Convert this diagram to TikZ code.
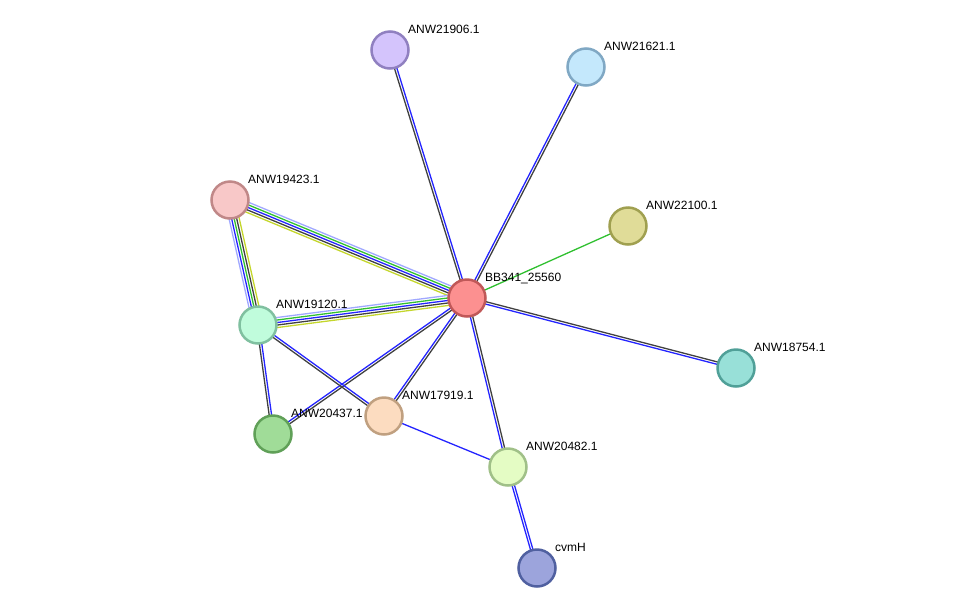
\documentclass[tikz,border=0pt]{standalone}
\usepackage{fontspec}
\setmainfont{Liberation Sans}
\usetikzlibrary{calc,backgrounds}
\definecolor{evDb}{HTML}{A0A8FF}
\definecolor{evNb}{HTML}{30C030}
\definecolor{evCo}{HTML}{2424FF}
\definecolor{evEx}{HTML}{404040}
\definecolor{evTm}{HTML}{C4D62C}
\definecolor{fBb}{HTML}{FC9090}\definecolor{dBb}{HTML}{C05858}
\definecolor{fA}{HTML}{D4C4FC}\definecolor{dA}{HTML}{9080C0}
\definecolor{fB}{HTML}{C4E8FC}\definecolor{dB}{HTML}{80A8C4}
\definecolor{fC}{HTML}{E0DC98}\definecolor{dC}{HTML}{A0A050}
\definecolor{fD}{HTML}{F8C8C8}\definecolor{dD}{HTML}{C08888}
\definecolor{fE}{HTML}{C0FCDC}\definecolor{dE}{HTML}{80C0A0}
\definecolor{fF}{HTML}{98E0D8}\definecolor{dF}{HTML}{50A098}
\definecolor{fG}{HTML}{FCDCC0}\definecolor{dG}{HTML}{C0A080}
\definecolor{fH}{HTML}{A0DC98}\definecolor{dH}{HTML}{60A058}
\definecolor{fI}{HTML}{E4FCC4}\definecolor{dI}{HTML}{A0C088}
\definecolor{fJ}{HTML}{9CA4DC}\definecolor{dJ}{HTML}{5060A0}
\tikzset{prot/.style n args={3}{circle,draw=#2,fill=#1,line width=2.5pt,minimum size=37pt,inner sep=0pt,
    label={[lbl]45:#3}},
  lbl/.style={font=\fontsize{12}{14}\selectfont,anchor=base west,inner sep=0pt,xshift=4pt,yshift=3pt},
  ev/.style={line width=1.3pt}}
\newcommand{\evline}[4]{\draw[ev,#3] ($(#1)!#4!90:(#2)$) -- ($(#2)!#4!-90:(#1)$);}
\begin{document}
\begin{tikzpicture}[x=1pt,y=-1pt]
\useasboundingbox (0,0) rectangle (975,614);
\node[prot={fBb}{dBb}{BB341\_25560}] (bb) at (467,298) {};
\node[prot={fA}{dA}{ANW21906.1}] (n21906) at (390,50) {};
\node[prot={fB}{dB}{ANW21621.1}] (n21621) at (586,67) {};
\node[prot={fC}{dC}{ANW22100.1}] (n22100) at (628,226) {};
\node[prot={fD}{dD}{ANW19423.1}] (n19423) at (230,200) {};
\node[prot={fE}{dE}{ANW19120.1}] (n19120) at (258,325) {};
\node[prot={fF}{dF}{ANW18754.1}] (n18754) at (736,368) {};
\node[prot={fG}{dG}{ANW17919.1}] (n17919) at (384,416) {};
\node[prot={fH}{dH}{ANW20437.1}] (n20437) at (273,434) {};
\node[prot={fI}{dI}{ANW20482.1}] (n20482) at (508,467) {};
\node[prot={fJ}{dJ}{cvmH}] (cvmh) at (537,568) {};
\begin{pgfonlayer}{background}
\evline{bb}{n21906}{evCo}{-1.2pt}
\evline{bb}{n21906}{evEx}{1.2pt}
\evline{bb}{n21621}{evCo}{1.2pt}
\evline{bb}{n21621}{evEx}{-1.2pt}
\evline{bb}{n22100}{evNb}{0pt}
\evline{bb}{n18754}{evCo}{-1.2pt}
\evline{bb}{n18754}{evEx}{1.2pt}
\evline{bb}{n20482}{evCo}{-1.2pt}
\evline{bb}{n20482}{evEx}{1.2pt}
\evline{bb}{n17919}{evCo}{-1.2pt}
\evline{bb}{n17919}{evEx}{1.2pt}
\evline{bb}{n20437}{evCo}{-1.2pt}
\evline{bb}{n20437}{evEx}{1.2pt}
\evline{n19423}{bb}{evDb}{5pt}
\evline{n19423}{bb}{evNb}{2.5pt}
\evline{n19423}{bb}{evCo}{0pt}
\evline{n19423}{bb}{evEx}{-2.5pt}
\evline{n19423}{bb}{evTm}{-5pt}
\evline{n19120}{bb}{evDb}{5pt}
\evline{n19120}{bb}{evNb}{2.5pt}
\evline{n19120}{bb}{evCo}{0pt}
\evline{n19120}{bb}{evEx}{-2.5pt}
\evline{n19120}{bb}{evTm}{-5pt}
\evline{n19423}{n19120}{evDb}{-5pt}
\evline{n19423}{n19120}{evCo}{-2.5pt}
\evline{n19423}{n19120}{evNb}{0pt}
\evline{n19423}{n19120}{evEx}{2.5pt}
\evline{n19423}{n19120}{evTm}{5pt}
\evline{n19120}{n20437}{evEx}{-1.2pt}
\evline{n19120}{n20437}{evCo}{1.2pt}
\evline{n19120}{n17919}{evEx}{-1.2pt}
\evline{n19120}{n17919}{evCo}{1.2pt}
\evline{n17919}{n20482}{evCo}{0pt}
\evline{n20482}{cvmh}{evCo}{-1.2pt}
\evline{n20482}{cvmh}{evCo}{1.2pt}
\end{pgfonlayer}
\end{tikzpicture}
\end{document}
